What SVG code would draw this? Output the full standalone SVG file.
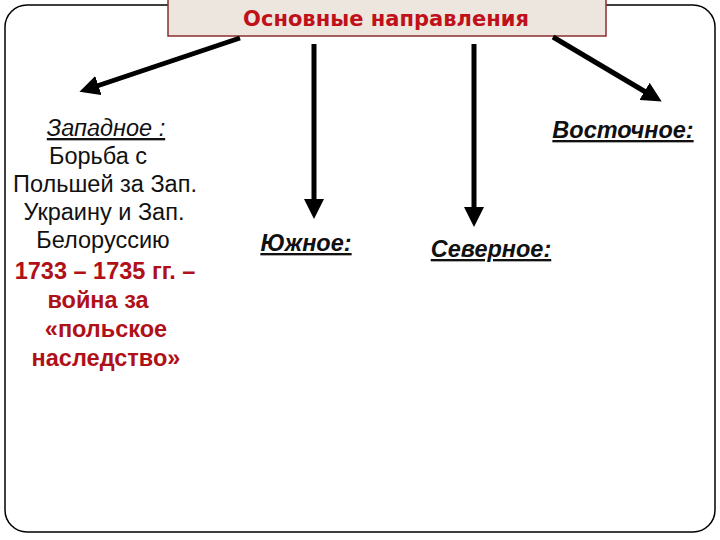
<svg xmlns="http://www.w3.org/2000/svg" width="720" height="540" viewBox="0 0 720 540">
<style>
.t{font-family:"Liberation Sans",Arial,sans-serif;font-size:23.5px;fill:#111;text-anchor:middle}
.h{font-style:italic;text-decoration:underline}
.b{font-weight:bold}
.r{fill:#b01018;font-weight:bold}
.c{stroke:#000;stroke-width:5;fill:none}
</style>
<defs>
<marker id="ah" markerWidth="4" markerHeight="4" refX="2.2" refY="2" orient="auto" markerUnits="strokeWidth">
<path d="M0,0 L4,2 L0,4 Z" fill="#000"/>
</marker>
</defs>
<rect x="5" y="5" width="710" height="527" rx="22" ry="22" fill="#fff" stroke="#000" stroke-width="1.5"/>
<g id="title">
<rect x="168" y="-2" width="438" height="38" fill="#ece6de" stroke="#8b2e2e" stroke-width="1.5"/>
<text x="386" y="26" font-family="'Comic Neue','Comic Sans MS','DejaVu Sans',sans-serif" font-size="21" font-weight="bold" fill="#c0101a" text-anchor="middle">Основные направления</text>
</g>
<g id="connectors">
<line class="c" x1="240" y1="38" x2="88" y2="89" marker-end="url(#ah)"/>
<line class="c" x1="314" y1="44" x2="314" y2="210" marker-end="url(#ah)"/>
<line class="c" x1="474" y1="44" x2="474" y2="218" marker-end="url(#ah)"/>
<line class="c" x1="553" y1="37" x2="654" y2="97" marker-end="url(#ah)"/>
</g>
<g id="west">
<text class="t h" x="106" y="136">Западное :</text>
<text class="t" x="98" y="164">Борьба с</text>
<text class="t" x="105" y="192">Польшей за Зап.</text>
<text class="t" x="104" y="220">Украину и Зап.</text>
<text class="t" x="103" y="248">Белоруссию</text>
<text class="t r" x="105" y="279">1733 – 1735 гг. –</text>
<text class="t r" x="98" y="308">война за</text>
<text class="t r" x="106" y="337">«польское</text>
<text class="t r" x="106" y="366">наследство»</text>
</g>
<g id="south">
<text class="t h b" x="306" y="251" font-size="23">Южное:</text>
</g>
<g id="north">
<text class="t h b" x="491" y="257" font-size="23"> Северное:</text>
</g>
<g id="east">
<text class="t h b" x="623" y="138" font-size="23">Восточное:</text>
</g>
</svg>
